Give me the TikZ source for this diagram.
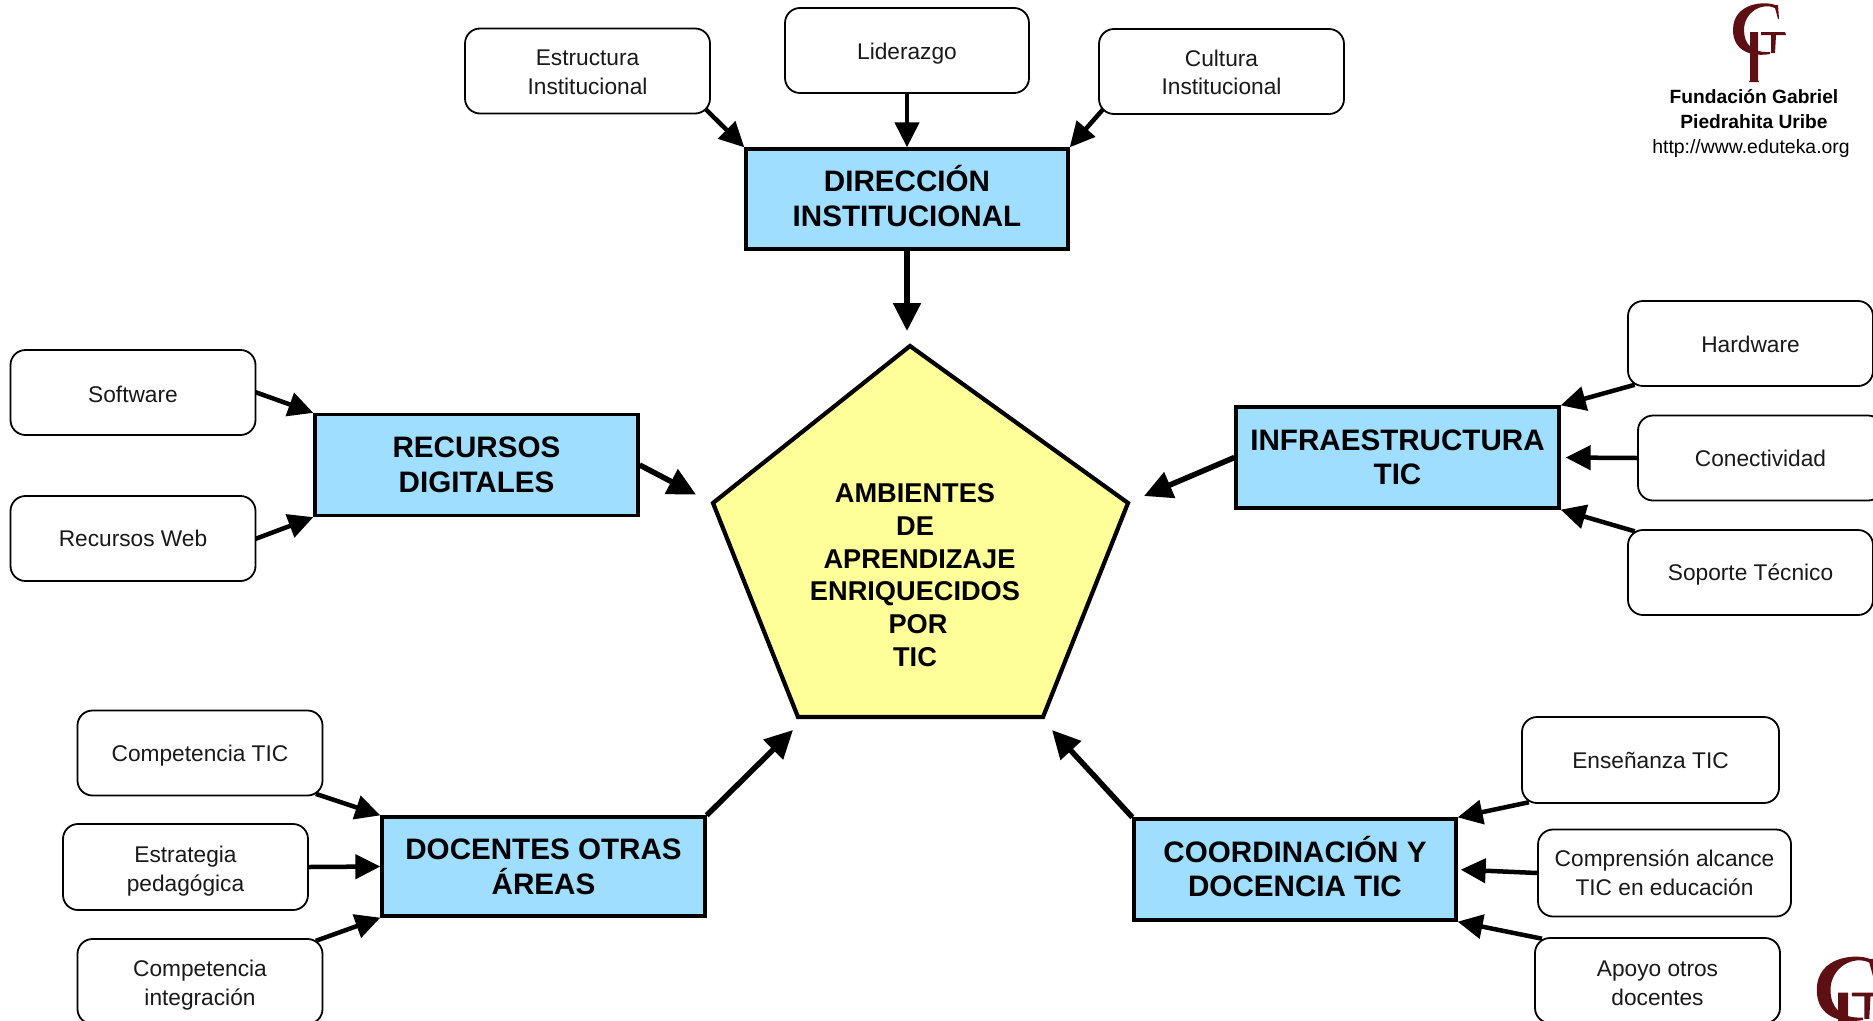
\documentclass[tikz,border=0pt]{standalone}
\usepackage{fontspec}
\setmainfont{Liberation Sans}
\usetikzlibrary{arrows.meta,backgrounds}
\definecolor{boxblue}{HTML}{9FDEFF}
\definecolor{penty}{HTML}{FFFF99}
\definecolor{logored}{HTML}{5E0F14}
\newcommand{\gplogo}{%
  \fill[logored] (17,-25) .. controls (8,-29) and (-25,-28) .. (-25,0) .. controls (-25,22) and (-5,27) .. (12,24)
    -- (12,22) .. controls (-6,23) and (-14,14) .. (-14,0) .. controls (-14,-18) and (4,-28) .. (17,-22) -- (20,-11) -- (21,-11) -- (20,-25) -- cycle;
  \fill[logored] (3,2) -- (27,2) -- (28,5) -- (18,5) -- (17,23) -- (13,23) -- (13,5) -- (3,5) -- cycle;
  \fill[logored] (-8,2) -- (0,2) -- (0,50) -- (1,52) -- (-9,52) -- (-8,50) -- cycle;
}
\newcommand{\lowered}[1]{\rule{0pt}{\dimexpr16.5pt+2\dimexpr#1pt\relax\relax}}
\tikzset{
  leaf/.style={draw=black,line width=1.8pt,rounded corners=15pt,fill=white,inner sep=0pt,align=center,
    font=\fontsize{22.7}{28.7}\selectfont,text=black!90},
  hub/.style={draw=black,line width=3.3pt,fill=boxblue,inner sep=0pt,align=center,
    font=\fontsize{29.6}{34.6}\selectfont\bfseries},
  hubup/.style={execute at end node={\rule[-\dimexpr2\dimexpr#1pt\relax\relax]{0pt}{0pt}}},
  leafarrow/.style={line width=4.5pt,-{Triangle[length=25pt,width=24pt]},shorten <=-8pt},
  mainarrow/.style={line width=5.5pt,-{Triangle[length=28pt,width=27pt]}},
  logotext/.style={inner sep=0pt,align=center}
}
\begin{document}
\begin{tikzpicture}[x=1pt,y=-1pt]
\useasboundingbox (0,0) rectangle (1873,1020);
\clip (0,0) rectangle (1873,1020);
% pentagon
\coordinate (pa) at (910,346);
\coordinate (pb) at (1128,503);
\coordinate (pc) at (1043,717);
\coordinate (pd) at (798,717);
\coordinate (pe) at (713,503);
\draw[line width=4.2pt,fill=penty,line join=miter] (pa)--(pb)--(pc)--(pd)--(pe)--cycle;
\node[inner sep=0pt,align=center,font=\fontsize{27.2}{32.7}\selectfont\bfseries] (pent) at (915,575)
  {AMBIENTES\\DE\\\hspace*{9pt}APRENDIZAJE\\ENRIQUECIDOS\\\hspace*{6pt}POR\\TIC};
% hubs
\node[hub,hubup=3,minimum width=322pt,minimum height=100pt] (dir) at (907,199) {DIRECCIÓN\\INSTITUCIONAL};
\node[hub,minimum width=323pt,minimum height=101pt] (rec) at (476.5,465) {RECURSOS\\DIGITALES};
\node[hub,minimum width=323pt,minimum height=101pt] (inf) at (1397.5,457.5) {INFRAESTRUCTURA\\TIC};
\node[hub,minimum width=323pt,minimum height=99pt] (doc) at (543.5,866.5) {DOCENTES OTRAS\\ÁREAS};
\node[hub,hubup=3,minimum width=322pt,minimum height=101pt] (coo) at (1295,869.5) {COORDINACIÓN Y\\DOCENCIA TIC};
% leaves
\node[leaf,minimum width=245pt,minimum height=85pt] (estr) at (587.5,71) {\lowered{1}Estructura\\Institucional};
\node[leaf,minimum width=244pt,minimum height=85pt] (lid) at (907,50.5) {\lowered{3}Liderazgo};
\node[leaf,minimum width=245pt,minimum height=85pt] (cul) at (1221.5,71.5) {\lowered{1}Cultura\\Institucional};
\node[leaf,minimum width=245pt,minimum height=85pt] (sw) at (133,392.5) {\lowered{2}Software};
\node[leaf,minimum width=245pt,minimum height=85pt] (rw) at (133,538.5) {Recursos Web};
\node[leaf,minimum width=245pt,minimum height=85pt] (hw) at (1750.5,343.5) {\lowered{1}Hardware};
\node[leaf,minimum width=245pt,minimum height=85pt] (con) at (1760.5,458) {Conectividad};
\node[leaf,minimum width=245pt,minimum height=85pt] (sop) at (1750.5,572.5) {\lowered{2.4}Soporte Técnico};
\node[leaf,minimum width=245pt,minimum height=85pt] (ct) at (200,753) {\lowered{3}Competencia TIC};
\node[leaf,minimum width=245pt,minimum height=86pt] (ep) at (185.5,867) {\lowered{4}Estrategia\\pedagógica};
\node[leaf,minimum width=245pt,minimum height=85pt] (ci) at (200,981.5) {\lowered{3.5}Competencia\\integración};
\node[leaf,minimum width=257pt,minimum height=86pt] (ens) at (1650.5,760) {Enseñanza TIC};
\node[leaf,minimum width=253pt,minimum height=87pt] (cmp) at (1664.5,873) {Comprensión alcance\\TIC en educación};
\node[leaf,minimum width=245pt,minimum height=85pt] (apo) at (1657.5,980.5) {\lowered{2}Apoyo otros\\docentes};
% free ends at the pentagon
\coordinate (tdir) at (907,331);
\coordinate (trec) at (696,494.5);
\coordinate (tinf) at (1144,496);
\coordinate (tdoc) at (793,730);
\coordinate (tcoo) at (1052,730);
\begin{scope}[on background layer]
\draw[mainarrow] (dir.south) -- (tdir);
\draw[mainarrow] (rec.east) -- (trec);
\draw[mainarrow] (inf.west) -- (tinf);
\draw[mainarrow] (doc.north east) -- (tdoc);
\draw[mainarrow] (coo.north west) -- (tcoo);
\draw[leafarrow] (estr.south east) -- (dir.north west);
\draw[leafarrow] (lid.south) -- (dir.north);
\draw[leafarrow] (cul.south west) -- (dir.north east);
\draw[leafarrow] (sw.east) -- (rec.north west);
\draw[leafarrow] (rw.east) -- (rec.south west);
\draw[leafarrow] (hw.south west) -- (inf.north east);
\draw[leafarrow,shorten >=5pt] (con.west) -- (inf.east);
\draw[leafarrow] (sop.north west) -- (inf.south east);
\draw[leafarrow] (ct.south east) -- (doc.north west);
\draw[leafarrow] (ep.east) -- (doc.west);
\draw[leafarrow] (ci.north east) -- (doc.south west);
\draw[leafarrow] (ens.south west) -- (coo.north east);
\draw[leafarrow,shorten >=3pt] (cmp.west) -- (coo.east);
\draw[leafarrow] (apo.north west) -- (coo.south east);
\end{scope}
% logo top right
\begin{scope}[shift={(1758,30)}]
\gplogo
\end{scope}
\node[logotext,font=\fontsize{19.2}{25.5}\selectfont\bfseries] (fund) at (1754,109) {Fundación Gabriel\\Piedrahita Uribe};
\node[logotext,font=\fontsize{19.4}{24}\selectfont] (web) at (1751,148) {http://www.eduteka.org};
% logo bottom right, cut by the page edge
\begin{scope}[shift={(1848,990)},scale=1.25]
\gplogo
\end{scope}
\end{tikzpicture}
\end{document}
